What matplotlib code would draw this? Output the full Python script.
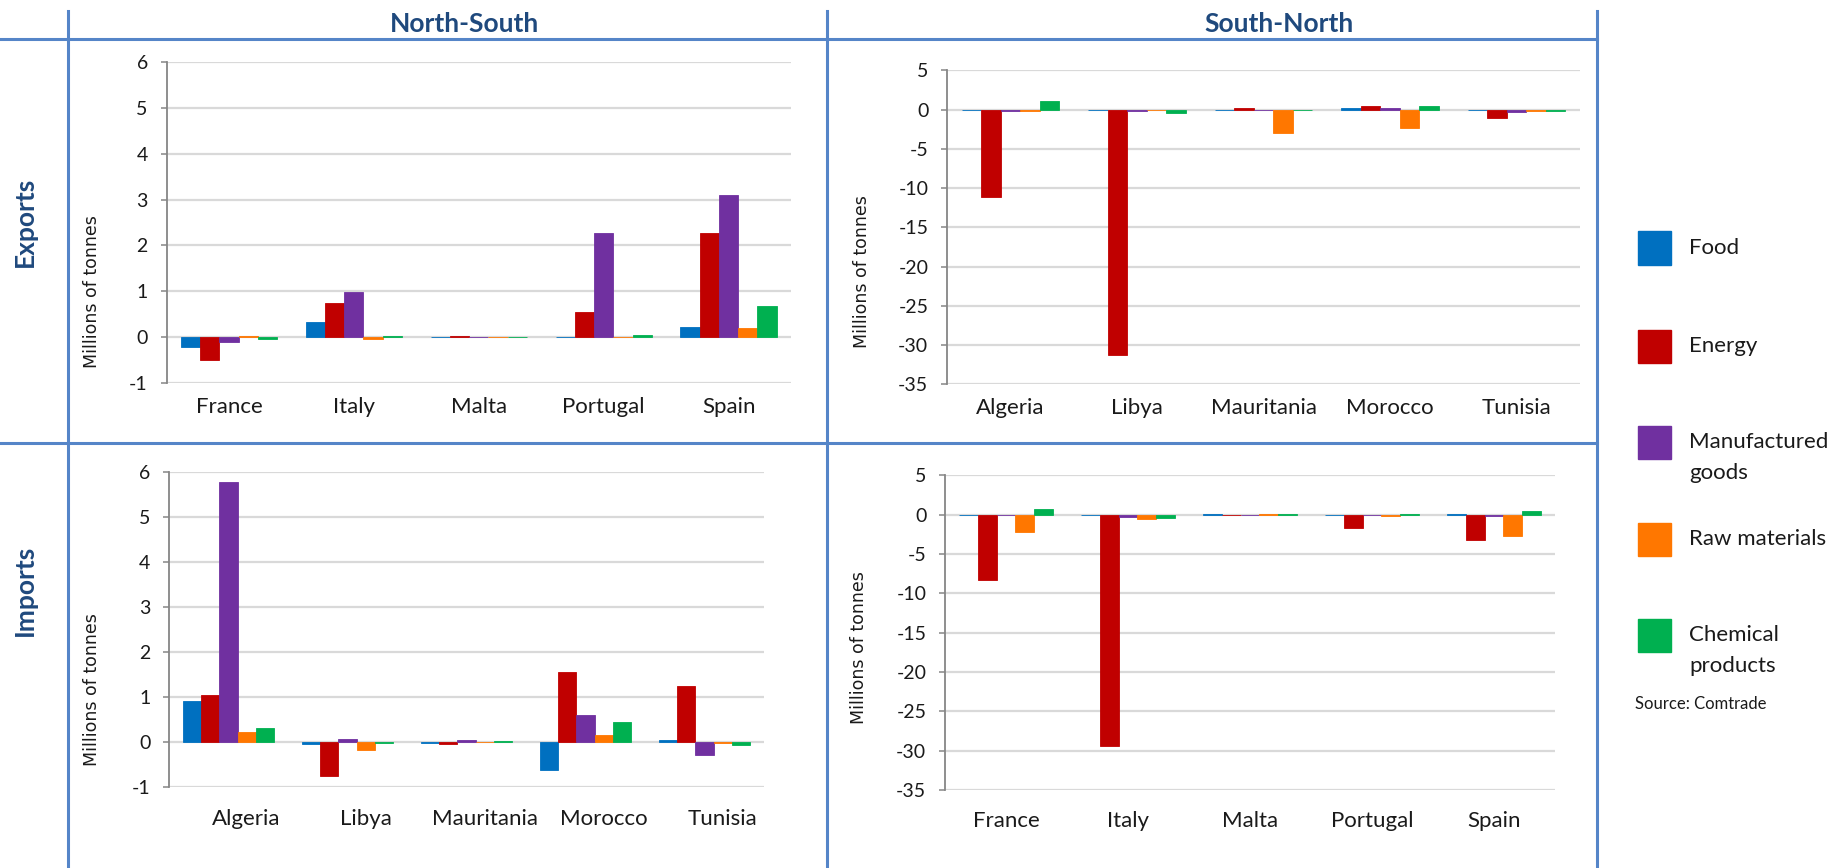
# Trade flows across the Mediterranean: 2x2 grid of grouped bar charts
import matplotlib
matplotlib.use("Agg")
import matplotlib.pyplot as plt
from matplotlib.lines import Line2D
from matplotlib.patches import Rectangle
from matplotlib.transforms import ScaledTranslation
import numpy as np

# Categories
north = ["France", "Italy", "Malta", "Portugal", "Spain"]
south = ["Algeria", "Libya", "Mauritania", "Morocco", "Tunisia"]
series = ["Food", "Energy", "Manufactured\ngoods", "Raw materials", "Chemical\nproducts"]
colors = ["#0070C0", "#C00000", "#7030A0", "#FF7700", "#00B050"]

# Exports, North-South (north countries), millions of tonnes
exp_ns_food = [-0.23, 0.32, -0.01, -0.01, 0.21]
exp_ns_energy = [-0.50, 0.74, 0.02, 0.54, 2.26]
exp_ns_manuf = [-0.12, 0.99, 0.005, 2.26, 3.09]
exp_ns_raw = [0.02, -0.04, 0.005, -0.01, 0.20]
exp_ns_chem = [-0.04, 0.01, 0.005, 0.04, 0.68]

# Exports, South-North (south countries)
exp_sn_food = [-0.05, -0.05, -0.02, 0.17, -0.05]
exp_sn_energy = [-11.1, -31.25, 0.17, 0.42, -1.02]
exp_sn_manuf = [-0.17, -0.17, -0.05, 0.17, -0.34]
exp_sn_raw = [-0.2, -0.05, -2.97, -2.3, -0.2]
exp_sn_chem = [1.1, -0.47, -0.05, 0.47, -0.2]

# Imports, North-South (south countries)
imp_ns_food = [0.90, -0.04, -0.03, -0.62, 0.04]
imp_ns_energy = [1.05, -0.76, -0.04, 1.56, 1.24]
imp_ns_manuf = [5.78, 0.07, 0.03, 0.59, -0.30]
imp_ns_raw = [0.22, -0.18, -0.01, 0.15, -0.03]
imp_ns_chem = [0.30, -0.03, 0.02, 0.43, -0.07]

# Imports, South-North (north countries)
imp_sn_food = [-0.05, -0.05, 0.02, -0.02, 0.10]
imp_sn_energy = [-8.35, -29.4, -0.05, -1.65, -3.22]
imp_sn_manuf = [-0.10, -0.30, -0.05, -0.05, -0.17]
imp_sn_raw = [-2.16, -0.55, 0.02, -0.17, -2.75]
imp_sn_chem = [0.68, -0.38, 0.02, 0.10, 0.51]

W, H = 1830, 868
fig = plt.figure(figsize=(W / 100, H / 100), dpi=100)
plt.rcParams['font.family'] = ['Lato', 'DejaVu Sans']

frame_c = "#5585C8"
head_c = "#1F497D"
txt_c = "#1a1a1a"


def px_rect(left, right, top, bottom):
    return [left / W, (H - bottom) / H, (right - left) / W, (bottom - top) / H]


panels = [
    # rect in pixels, labels, data, yticks, xpad, ylabel coords, label shift
    (px_rect(166.5, 791, 62.3, 382.7), north,
     [exp_ns_food, exp_ns_energy, exp_ns_manuf, exp_ns_raw, exp_ns_chem],
     np.arange(-1, 7, 1), 10, (-0.119, 0.286), 0.0),
    (px_rect(947, 1580, 70.3, 384.3), south,
     [exp_sn_food, exp_sn_energy, exp_sn_manuf, exp_sn_raw, exp_sn_chem],
     np.arange(-35, 10, 5), 10, (-0.134, 0.358), 0.0),
    (px_rect(169, 764, 472.3, 786.7), south,
     [imp_ns_food, imp_ns_energy, imp_ns_manuf, imp_ns_raw, imp_ns_chem],
     np.arange(-1, 7, 1), 16, (-0.129, 0.308), 0.18),
    (px_rect(945, 1555, 475.3, 790), north,
     [imp_sn_food, imp_sn_energy, imp_sn_manuf, imp_sn_raw, imp_sn_chem],
     np.arange(-35, 10, 5), 15, (-0.141, 0.454), 0.0),
]

bw = 0.154
x = np.arange(5)
for rect, cats, data, yt, xpad, ylc, shift in panels:
    ax = fig.add_axes(rect)
    for i, vals in enumerate(data):
        ax.bar(x + (i - 2) * bw, vals, width=bw, color=colors[i],
               edgecolor=colors[i], linewidth=0.6, zorder=3)
    ax.set_xlim(-0.5, 4.5)
    ax.set_ylim(yt[0], yt[-1])
    ax.set_yticks(yt)
    ax.set_yticklabels([str(v) for v in yt])
    ax.set_xticks(x)
    ax.set_xticklabels(cats)
    ax.grid(axis='y', color='#D9D9D9', linewidth=1.6, zorder=0)
    ax.set_axisbelow(True)
    for s in ['top', 'right', 'bottom']:
        ax.spines[s].set_visible(False)
    ax.spines['left'].set_color('#868686')
    ax.spines['left'].set_linewidth(1.3)
    ax.tick_params(axis='y', length=4.5, width=1.1, color='#868686',
                   pad=9, labelsize=14, labelcolor=txt_c)
    ax.tick_params(axis='x', length=0, pad=xpad, labelsize=16, labelcolor=txt_c)
    if shift:
        for lab in ax.get_xticklabels():
            lab.set_transform(lab.get_transform() +
                              ScaledTranslation(shift, 0, fig.dpi_scale_trans))
    ax.set_ylabel("Millions of tonnes", family='DejaVu Sans', fontsize=12.5,
                  color=txt_c)
    ax.yaxis.label.set_verticalalignment('center')
    ax.yaxis.set_label_coords(*ylc)

# Frame lines of the table layout
def fline(x0, y0, x1, y1):
    fig.add_artist(Line2D([x0 / W, x1 / W], [(H - y0) / H, (H - y1) / H],
                          color=frame_c, linewidth=2.2, transform=fig.transFigure))

fline(0, 39, 1597, 39)
fline(0, 443, 1597, 443)
fline(68, 11, 68, H)
fline(827, 11, 827, H)
fline(1597, 11, 1597, H)

# Column and row headings
fig.text(465 / W, (H - 24) / H, "North-South", ha='center', va='center',
         fontsize=19, fontweight='bold', color=head_c)
fig.text(1279 / W, (H - 24) / H, "South-North", ha='center', va='center',
         fontsize=19, fontweight='bold', color=head_c)
fig.text(25 / W, (H - 222) / H, "Exports", ha='center', va='center', rotation=90,
         fontsize=19, fontweight='bold', color=head_c)
fig.text(25 / W, (H - 590) / H, "Imports", ha='center', va='center', rotation=90,
         fontsize=19, fontweight='bold', color=head_c)

# Legend drawn by hand to keep the spacing of the original
leg_y = [248, 346, 442, 539, 635]
for lab, c, yc in zip(series, colors, leg_y):
    fig.add_artist(Rectangle((1638 / W, (H - yc - 16.5) / H), 33 / W, 33 / H,
                             color=c, transform=fig.transFigure))
    fig.text(1689 / W, (H - yc) / H, lab.split("\n")[0], ha='left', va='center',
             fontsize=16, color=txt_c)
    if "\n" in lab:
        fig.text(1689 / W, (H - yc - 31) / H, lab.split("\n")[1], ha='left',
                 va='center', fontsize=16, color=txt_c)

fig.text(1635 / W, (H - 704) / H, "Source: Comtrade", ha='left', va='center',
         fontsize=12, color=txt_c)

fig.savefig("out.png", dpi=100)
